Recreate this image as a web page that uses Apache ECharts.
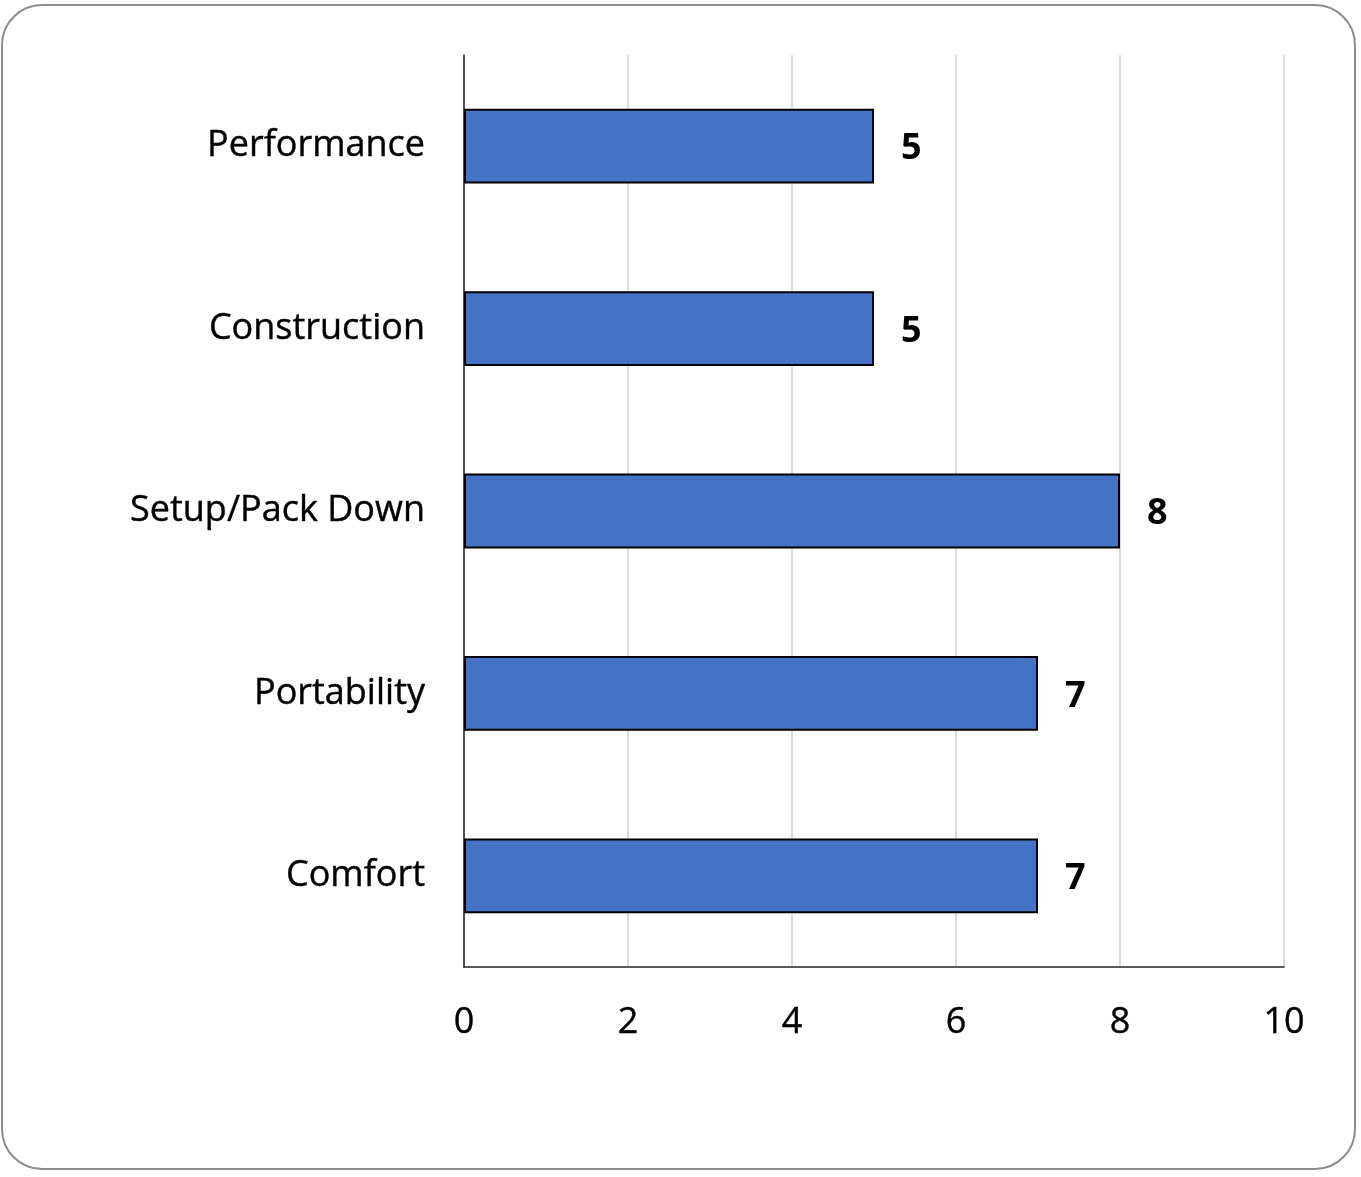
<!DOCTYPE html>
<html>
<head>
<meta charset="utf-8">
<script src="https://cdn.jsdelivr.net/npm/echarts@6/dist/echarts.min.js"></script>
<style>
html,body{margin:0;padding:0;background:#fff;}
#c{width:1361px;height:1177px;}
</style>
</head>
<body>
<div id="c"></div>
<script>
const categories = ["Performance", "Construction", "Setup/Pack Down", "Portability", "Comfort"];
const scores = [5, 5, 8, 7, 7];
const xTicks = [0, 2, 4, 6, 8, 10];

const chart = echarts.init(document.getElementById('c'), null, {renderer: 'canvas'});
const font = '"Open Sans", "Liberation Sans", sans-serif';
chart.setOption({
  animation: false,
  backgroundColor: '#ffffff',
  graphic: [{
    type: 'rect',
    shape: {x: 2, y: 5, width: 1353, height: 1164, r: 40},
    style: {fill: 'none', stroke: '#8c8c8c', lineWidth: 2},
    z: -1
  }],
  grid: {left: 464, right: 77, top: 55, bottom: 210, containLabel: false},
  xAxis: {
    type: 'value',
    min: xTicks[0],
    max: xTicks[xTicks.length - 1],
    interval: 2,
    axisLine: {show: true, lineStyle: {color: '#262626', width: 1.5}},
    axisTick: {show: false},
    splitLine: {show: true, lineStyle: {color: '#d0d0d0', width: 1.5}},
    axisLabel: {color: '#000', fontSize: 36, fontFamily: font, margin: 38, textBorderColor: '#000', textBorderWidth: 0.4}
  },
  yAxis: {
    type: 'category',
    data: categories,
    inverse: true,
    axisLine: {show: true, lineStyle: {color: '#262626', width: 1.5}},
    axisTick: {show: false},
    axisLabel: {color: '#000', fontSize: 36, fontFamily: font, margin: 39, textBorderColor: '#000', textBorderWidth: 0.4}
  },
  series: [{
    type: 'bar',
    data: scores,
    barCategoryGap: '59%',
    itemStyle: {color: '#4472C4', borderColor: '#000', borderWidth: 2},
    label: {
      show: true,
      position: 'right',
      distance: 27,
      color: '#000',
      fontSize: 36,
      fontWeight: 'bold',
      fontFamily: font,
      offset: [0, 3]
    }
  }]
});
</script>
</body>
</html>
